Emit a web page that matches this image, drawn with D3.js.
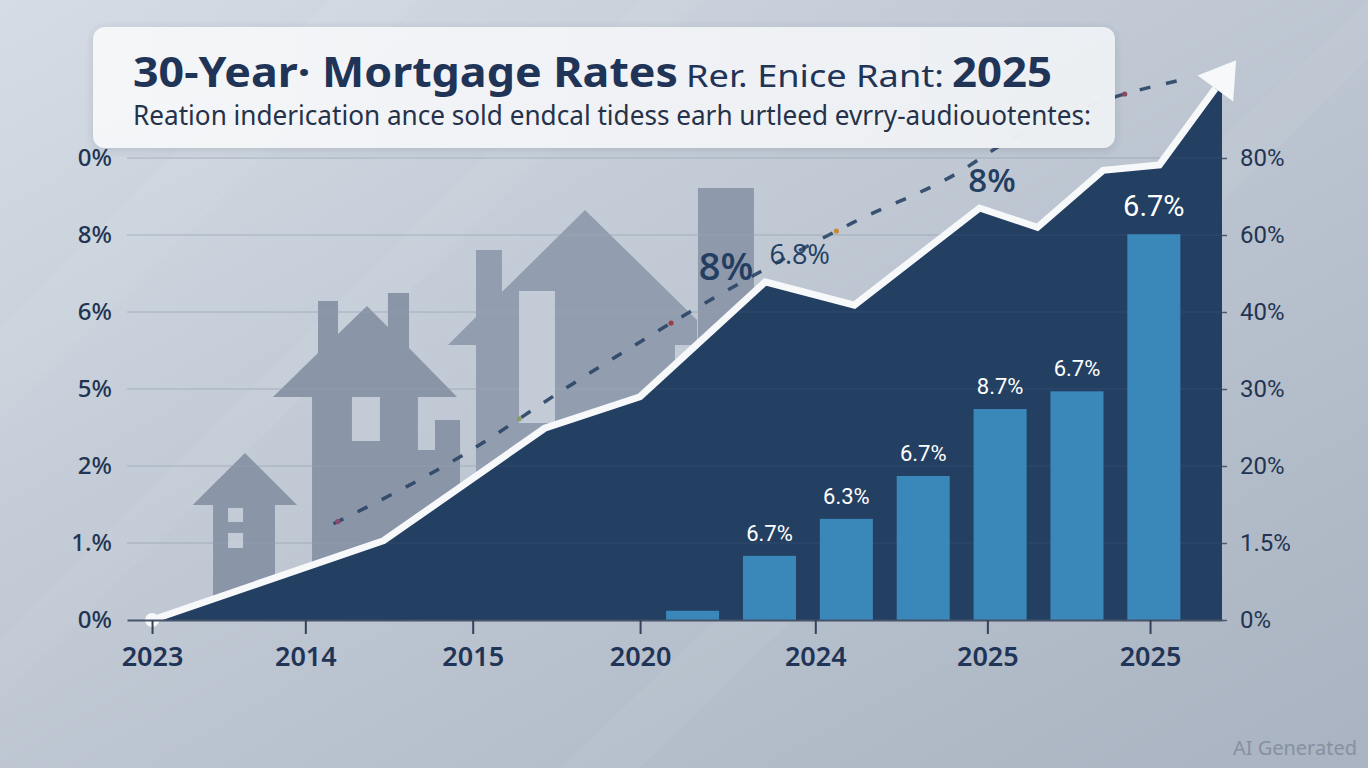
<!DOCTYPE html>
<html>
<head>
<meta charset="utf-8">
<script src="https://cdn.jsdelivr.net/npm/d3@7"></script>
<style>
  html, body { margin: 0; padding: 0; overflow: hidden; background: #c3cbd6; }
  svg { display: block; }
</style>
</head>
<body>
<svg id="chart" width="1368" height="768"></svg>
<script>
// ---------- data ----------
// left axis labels, bottom to top (one per gridline)
const leftLabels = ["0%", "1.%", "2%", "5%", "6%", "8%", "0%"];
// right axis ticks, bottom to top
const rightTicks = [0, 1.5, 20, 30, 40, 60, 80];
const rightLabels = ["0%", "1.5%", "20%", "30%", "40%", "60%", "80%"];
// x axis ticks (position on a 0..7 track) and their labels
const xTickPos = [0.16, 1.14, 2.21, 3.28, 4.40, 5.50, 6.54];
const xTickLabels = ["2023", "2014", "2015", "2020", "2024", "2025", "2025"];

// white rate line (x on track, y on gridline levels), last point is the arrow tip
const lineX = [0.16, 1.64, 2.67, 3.28, 4.08, 4.65, 5.45, 5.82, 6.24, 6.60, 7.09];
const lineY = [0, 1.03, 2.49, 2.90, 4.39, 4.09, 5.35, 5.10, 5.84, 5.91, 7.27];

// dashed trend line
const trendX = [1.32, 2.13, 2.82, 3.75, 4.64, 5.33, 5.59, 6.25, 6.80];
const trendY = [1.25, 2.12, 3.03, 4.18, 5.16, 5.83, 6.17, 6.75, 7.04];

// notes written along the trend
const noteTexts = ["8%", "6.8%", "8%"];
const noteX = [3.83, 4.30, 5.53];
const noteY = [4.42, 4.62, 5.56];

// bars, read on the right axis
const barIds = ["b1", "b2", "b3", "b4", "b5", "b6", "b7"];
const barValues = [0.18, 1.25, 7.3, 17.6, 27.4, 29.7, 60.2];
const barLabels = ["", "6.7%", "6.3%", "6.7%", "8.7%", "6.7%", "6.7%"];

// ---------- layout ----------
const W = 1368, H = 768;
const svg = d3.select("#chart");
const navy = "#1f3456";

const x = d3.scaleLinear().domain([0, 7]).range([127, 1222]);
const y = d3.scaleLinear().domain([0, 6]).range([620, 158]);
const yRight = d3.scaleLinear().domain(rightTicks).range(rightTicks.map((d, i) => y(i)));
const xBar = d3.scaleBand().domain(barIds)
    .range([x(3.37), x(6.81)])
    .paddingInner(0.31).paddingOuter(0.155);

const defs = svg.append("defs");

// background gradient
const bg = defs.append("linearGradient").attr("id", "bg")
    .attr("x1", 0).attr("y1", 0).attr("x2", 1).attr("y2", 1);
bg.append("stop").attr("offset", "0%").attr("stop-color", "#d5dce5");
bg.append("stop").attr("offset", "45%").attr("stop-color", "#bfc8d3");
bg.append("stop").attr("offset", "100%").attr("stop-color", "#a9b3c1");

const boxGrad = defs.append("linearGradient").attr("id", "boxGrad")
    .attr("x1", 0).attr("y1", 0).attr("x2", 1).attr("y2", 0);
boxGrad.append("stop").attr("offset", "0%").attr("stop-color", "#f6f7f9");
boxGrad.append("stop").attr("offset", "100%").attr("stop-color", "#eef1f4");

const shadow = defs.append("filter").attr("id", "shadow")
    .attr("x", "-5%").attr("y", "-20%").attr("width", "110%").attr("height", "150%");
shadow.append("feDropShadow").attr("dx", 0).attr("dy", 2).attr("stdDeviation", 4)
    .attr("flood-color", "#3a4a60").attr("flood-opacity", 0.18);

defs.append("clipPath").attr("id", "plotClip")
  .append("rect").attr("x", 0).attr("y", 0).attr("width", x(7)).attr("height", y(0));

svg.append("rect").attr("width", W).attr("height", H).attr("fill", "url(#bg)");

// soft diagonal light streaks
svg.append("g").attr("fill", "#ffffff")
  .selectAll("path")
  .data([[[0, 330], [330, 0], [420, 0], [0, 420]],
         [[0, 640], [640, 0], [700, 0], [0, 700]],
         [[560, 768], [1368, 0], [1368, 60], [640, 768]]])
  .join("path")
    .attr("d", d => d3.line()(d) + "Z")
    .attr("opacity", 0.05);

// gridlines
const grid = svg.append("g");
grid.selectAll("line")
  .data(d3.range(1, 7))
  .join("line")
    .attr("x1", x(0)).attr("x2", x(7))
    .attr("y1", d => y(d)).attr("y2", d => y(d))
    .attr("stroke", "#8995a7").attr("stroke-width", 1).attr("opacity", 0.6);

// ---------- background houses (in track / level units) ----------
const houseLine = d3.line().x(d => x(d[0])).y(d => y(d[1]));
const houses = [
  { fill: "#8a96a8", pts: [[0.42, 1.494], [0.754, 2.169], [1.087, 1.494], [0.946, 1.494], [0.946, 0], [0.55, 0], [0.55, 1.494]] },
  { fill: "#8a96a8", pts: [[0.933, 2.896], [1.221, 3.468], [1.221, 4.143], [1.349, 4.143], [1.349, 3.714], [1.534, 4.078],
                           [1.668, 3.805], [1.668, 4.247], [1.803, 4.247], [1.803, 3.532], [2.110, 2.896], [1.860, 2.896],
                           [1.860, 2.208], [1.969, 2.208], [1.969, 2.597], [2.129, 2.597], [2.129, 0], [1.183, 0], [1.183, 2.896]] },
  { fill: "#929eaf", pts: [[2.052, 3.571], [2.231, 3.935], [2.231, 4.805], [2.397, 4.805], [2.397, 4.260], [2.928, 5.325],
                           [3.644, 3.896], [3.644, 0], [2.231, 0], [2.231, 3.571]] },
  { fill: "#8e99ab", pts: [[3.650, 5.610], [4.008, 5.610], [4.008, 0], [3.650, 0]] }
];
svg.append("g").selectAll("path")
  .data(houses)
  .join("path")
    .attr("d", d => houseLine(d.pts) + "Z")
    .attr("fill", d => d.fill);

// light windows / gaps
const windows = [
  [0.646, 1.455, 0.742, 1.273], [0.646, 1.130, 0.742, 0.935],
  [1.438, 2.896, 1.617, 2.325],
  [2.506, 4.273, 2.736, 2.558],
  [3.503, 3.571, 3.644, 3.351]
];
svg.append("g").selectAll("rect")
  .data(windows)
  .join("rect")
    .attr("x", d => x(d[0])).attr("y", d => y(d[1]))
    .attr("width", d => x(d[2]) - x(d[0])).attr("height", d => y(d[3]) - y(d[1]))
    .attr("fill", "#c3cbd7");

// ---------- dashed trend ----------
const trend = trendX.map((d, i) => [d, trendY[i]]);
const trendPath = svg.append("path")
    .datum(trend)
    .attr("d", d3.line().x(d => x(d[0])).y(d => y(d[1])).curve(d3.curveMonotoneX))
    .attr("fill", "none")
    .attr("stroke", "#2a4466")
    .attr("stroke-width", 3.5)
    .attr("stroke-dasharray", "11 16")
    .attr("opacity", 0.9);

// a few tinted dashes along the trend, like the picture
const trendNode = trendPath.node();
const trendLen = trendNode.getTotalLength();
const accents = [[0.005, "#8a4a6e"], [0.22, "#8f9a6a"], [0.405, "#9c3d4a"], [0.6, "#c98a3a"], [0.93, "#8a4a5c"]];
svg.append("g").selectAll("circle")
  .data(accents)
  .join("circle")
    .attr("cx", d => trendNode.getPointAtLength(d[0] * trendLen).x)
    .attr("cy", d => trendNode.getPointAtLength(d[0] * trendLen).y)
    .attr("r", 2.6)
    .attr("fill", d => d[1]);

// ---------- title box ----------
svg.append("rect")
    .attr("x", 93).attr("y", 27).attr("width", 1022).attr("height", 121).attr("rx", 12)
    .attr("fill", "url(#boxGrad)").attr("opacity", 0.97)
    .attr("filter", "url(#shadow)");

const title = svg.append("g").attr("fill", navy);
title.append("text")
    .attr("x", 133).attr("y", 87)
    .attr("font-family", "'Noto Sans', sans-serif").attr("font-weight", 700).attr("font-size", 42)
    .attr("textLength", 545).attr("lengthAdjust", "spacingAndGlyphs")
    .text("30-Year\u00b7 Mortgage Rates");
title.append("text")
    .attr("x", 686).attr("y", 87)
    .attr("font-family", "'Noto Sans', sans-serif").attr("font-weight", 400).attr("font-size", 31)
    .attr("textLength", 258).attr("lengthAdjust", "spacingAndGlyphs")
    .text("Rer. Enice Rant:");
title.append("text")
    .attr("x", 952).attr("y", 87)
    .attr("font-family", "'Noto Sans', sans-serif").attr("font-weight", 700).attr("font-size", 42)
    .attr("textLength", 100).attr("lengthAdjust", "spacingAndGlyphs")
    .text("2025");
title.append("text")
    .attr("x", 133).attr("y", 125)
    .attr("fill", "#26324a")
    .attr("font-family", "'Noto Sans', sans-serif").attr("font-weight", 400).attr("font-size", 27)
    .attr("textLength", 958).attr("lengthAdjust", "spacingAndGlyphs")
    .text("Reation inderication ance sold endcal tidess earh urtleed evrry-audiouotentes:");

// ---------- area + white line ----------
const rate = lineX.map((d, i) => [d, lineY[i]]);
svg.append("path")
    .datum(rate)
    .attr("clip-path", "url(#plotClip)")
    .attr("d", d3.area().x(d => x(d[0])).y0(y(0)).y1(d => y(d[1])))
    .attr("fill", "#233f62");

// faint gridlines over the area
svg.append("g").attr("clip-path", "url(#plotClip)")
  .selectAll("line")
  .data(d3.range(1, 7))
  .join("line")
    .attr("x1", x(0)).attr("x2", x(7))
    .attr("y1", d => y(d)).attr("y2", d => y(d))
    .attr("stroke", "#ffffff").attr("stroke-width", 1).attr("opacity", 0.05);

// arrow head from the last segment
const pA = [x(lineX[lineX.length - 2]), y(lineY[lineY.length - 2])];
const pB = [x(lineX[lineX.length - 1]), y(lineY[lineY.length - 1])];
const len = Math.hypot(pB[0] - pA[0], pB[1] - pA[1]);
const ux = (pB[0] - pA[0]) / len, uy = (pB[1] - pA[1]) / len;
const headL = 35, headW = 22;
const base = [pB[0] - ux * headL, pB[1] - uy * headL];

svg.append("path")
    .datum(rate.slice(0, -1).concat([[x.invert(base[0]), y.invert(base[1])]]))
    .attr("d", d3.line().x(d => x(d[0])).y(d => y(d[1])))
    .attr("fill", "none")
    .attr("stroke", "#f7f8fa")
    .attr("stroke-width", 7)
    .attr("stroke-linejoin", "miter");

svg.append("path")
    .attr("d", d3.line()([pB, [base[0] - uy * headW, base[1] + ux * headW], [base[0] + uy * headW, base[1] - ux * headW]]) + "Z")
    .attr("fill", "#f7f8fa");

svg.append("circle")
    .attr("cx", x(lineX[0])).attr("cy", y(lineY[0])).attr("r", 7)
    .attr("fill", "#f7f8fa");

// ---------- bars ----------
svg.append("g").selectAll("rect")
  .data(barValues)
  .join("rect")
    .attr("x", (d, i) => xBar(barIds[i]))
    .attr("width", xBar.bandwidth())
    .attr("y", d => yRight(d))
    .attr("height", d => yRight(0) - yRight(d))
    .attr("fill", "#3a87ba");

svg.append("g").selectAll("text")
  .data(barLabels)
  .join("text")
    .attr("x", (d, i) => xBar(barIds[i]) + xBar.bandwidth() / 2)
    .attr("y", (d, i) => yRight(barValues[i]) - (i === barLabels.length - 1 ? 18 : 15))
    .attr("text-anchor", "middle")
    .attr("fill", "#ffffff")
    .attr("font-family", "Roboto, sans-serif")
    .attr("font-weight", 400)
    .attr("font-size", (d, i) => i === barLabels.length - 1 ? 29 : 22)
    .text(d => d);

// ---------- notes along the trend ----------
const noteSizes = [38, 27, 33];
svg.append("g").selectAll("text")
  .data(noteTexts)
  .join("text")
    .attr("x", (d, i) => x(noteX[i]))
    .attr("y", (d, i) => y(noteY[i]))
    .attr("text-anchor", "middle")
    .attr("fill", "#243e62")
    .attr("font-family", "'Open Sans', sans-serif")
    .attr("font-weight", (d, i) => i === 1 ? 500 : 600)
    .attr("font-size", (d, i) => noteSizes[i])
    .text(d => d);

// ---------- axes ----------
const axisFont = "'Noto Sans', sans-serif";

const gx = svg.append("g")
    .attr("transform", `translate(0,${y(0)})`)
    .call(d3.axisBottom(x).tickValues(xTickPos)
      .tickFormat((d, i) => xTickLabels[i])
      .tickSize(14).tickSizeOuter(0).tickPadding(13));
gx.select(".domain").attr("stroke", "#46546a").attr("stroke-width", 2);
gx.selectAll(".tick line").attr("stroke", "#33425a").attr("stroke-width", 2);
gx.selectAll("text")
    .attr("fill", navy).attr("font-family", axisFont)
    .attr("font-weight", 600).attr("font-size", 27);

const gl = svg.append("g")
    .attr("transform", `translate(${x(0)},0)`)
    .call(d3.axisLeft(y).tickValues(d3.range(0, 7))
      .tickFormat(i => leftLabels[i])
      .tickSize(0).tickPadding(15));
gl.select(".domain").remove();
gl.selectAll("text")
    .attr("fill", "#233452").attr("font-family", axisFont)
    .attr("font-weight", 500).attr("font-size", 24);

const gr = svg.append("g")
    .attr("transform", `translate(${x(7)},0)`)
    .call(d3.axisRight(yRight).tickValues(rightTicks)
      .tickFormat((d, i) => rightLabels[i])
      .tickSize(5).tickPadding(13));
gr.select(".domain").remove();
gr.selectAll(".tick line").attr("stroke", "#4a5870").attr("stroke-width", 1.5);
gr.selectAll("text")
    .attr("fill", "#233452").attr("font-family", "Roboto, sans-serif")
    .attr("font-weight", 400).attr("font-size", 24);

// watermark
svg.append("text")
    .attr("x", 1357).attr("y", 755)
    .attr("text-anchor", "end")
    .attr("fill", "#8790a0")
    .attr("font-family", "'Noto Sans', sans-serif")
    .attr("font-size", 20)
    .text("AI Generated");
</script>
</body>
</html>
